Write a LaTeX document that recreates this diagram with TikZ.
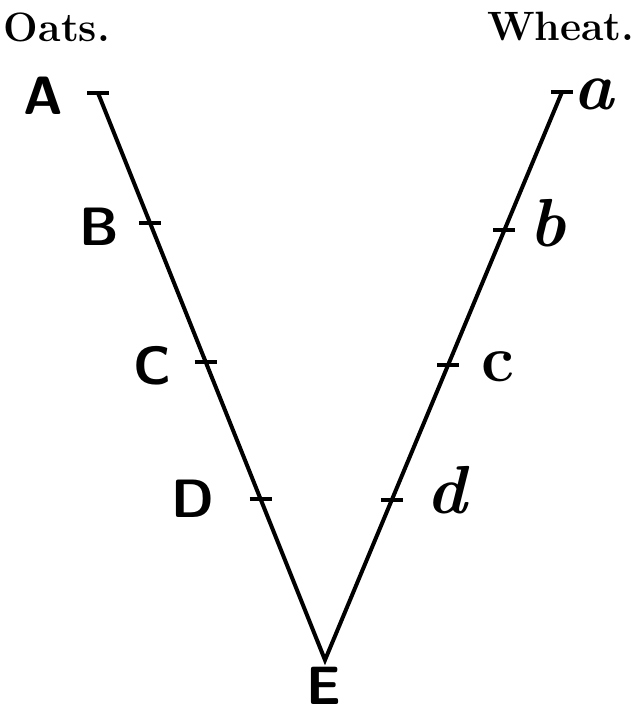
\documentclass[tikz,border=0pt]{standalone}
\usetikzlibrary{calc}
\begin{document}
\begin{tikzpicture}[x=1pt,y=-1pt,
  vline/.style={line width=4pt,line cap=round},
  tickmark/.style={line width=3.8pt},
  caplab/.style={inner sep=0pt,font=\fontsize{54}{58}\selectfont\sffamily\bfseries},
  smlab/.style={font=\fontsize{68}{72}\selectfont\itshape\bfseries},
  head/.style={font=\fontsize{41}{45}\selectfont\bfseries}]
\useasboundingbox (0,0) rectangle (636,719);
% points
\coordinate (pA) at (98,93);
\coordinate (pE) at (325,660);
\coordinate (pa) at (562,92);
\coordinate (pB) at ($(pA)!0.229!(pE)$);
\coordinate (pC) at ($(pA)!0.474!(pE)$);
\coordinate (pD) at ($(pA)!0.716!(pE)$);
\coordinate (pb) at ($(pa)!0.243!(pE)$);
\coordinate (pc) at ($(pa)!0.481!(pE)$);
\coordinate (pd) at ($(pa)!0.718!(pE)$);
% lines
\draw[vline] (pA) -- (pE) -- (pa);
% ticks
\foreach \p in {pA,pB,pC,pD,pa,pb,pc,pd}{
  \draw[tickmark] ($(\p)+(-11,0)$) -- ($(\p)+(11,0)$);
}
% labels
\node[head] (oats) at (57,27) {Oats.};
\node[head] (wheat) at (561,26) {Wheat.};
\node[caplab] (lA) at (43,96) {A};
\node[caplab] (lB) at (99,227) {B};
\node[caplab] (lC) at (152,366) {C};
\node[caplab] (lD) at (193,499) {D};
\node[caplab] (lE) at (324,686) {E};
\node[smlab] (la) at (594,94) {a};
\node[smlab] (lb) at (548,223) {b};
\node[font=\fontsize{66}{70}\selectfont\bfseries] (lc) at (498,367) {c};
\node[smlab] (ld) at (447,490) {d};
\end{tikzpicture}
\end{document}
